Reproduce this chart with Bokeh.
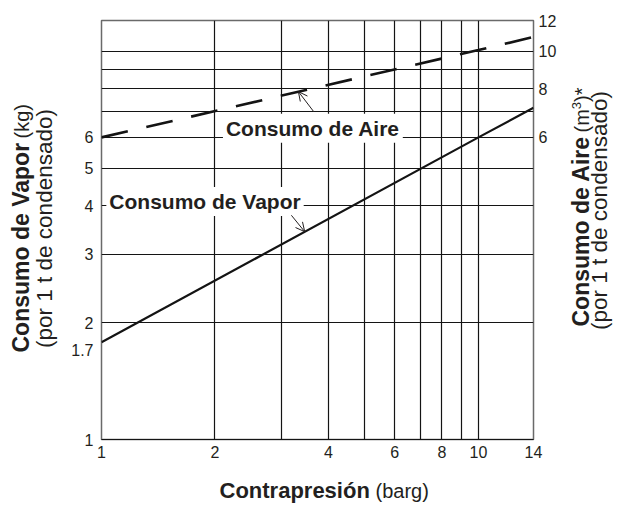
import math
from bokeh.plotting import figure
from bokeh.layouts import row, column
from bokeh.models import (LogAxis, Range1d, LogScale, FixedTicker, Label,
                          Arrow, OpenHead)
from bokeh.embed import file_html
from bokeh.resources import INLINE

# ---- data ----
pressure = [1, 10, 14]              # Contrapresión (barg)
steam = [1.78, 6.0, 7.15]           # Consumo de Vapor (kg / t condensado)
air = [6.0, 10.07, 10.88]           # Consumo de Aire (m3 / t condensado)

x_ticks = [1, 2, 4, 6, 8, 10, 14]
x_grid = [2, 3, 4, 5, 6, 7, 8, 9, 10]
y_ticks_left = [1, 1.7, 2, 3, 4, 5, 6]
y_ticks_right = [6, 8, 10, 12]
y_grid = [2, 3, 4, 5, 6, 7, 8, 9, 10]

INK = "#231f20"
LINE = "#141414"
FONT = "Liberation Sans"

# ---------------- main chart ----------------
p = figure(width=500, height=470, x_axis_type="log", y_axis_type="log",
           x_range=(1, 14), y_range=(1, 12),
           output_backend="svg", toolbar_location=None,
           min_border_left=41, min_border_right=27,
           min_border_top=20, min_border_bottom=31)
p.background_fill_color = "white"
p.border_fill_color = "white"
p.outline_line_color = "#6a6a6a"
p.outline_line_width = 1.5

p.xgrid[0].ticker = FixedTicker(ticks=x_grid)
p.ygrid[0].ticker = FixedTicker(ticks=y_grid)
for g in (p.xgrid[0], p.ygrid[0]):
    g.grid_line_color = LINE
    g.grid_line_width = 1.2
    g.minor_grid_line_color = None

def style_axis(ax, ticks, standoff):
    ax.ticker = FixedTicker(ticks=ticks)
    ax.major_label_overrides = {t: str(t) for t in ticks}
    ax.axis_line_color = None
    ax.major_tick_line_color = None
    ax.minor_tick_line_color = None
    ax.major_tick_out = 0
    ax.major_tick_in = 0
    ax.minor_tick_out = 0
    ax.minor_tick_in = 0
    ax.major_label_text_font = FONT
    ax.major_label_text_font_size = "16px"
    ax.major_label_text_color = INK
    ax.major_label_standoff = standoff
    ax.axis_label = None

style_axis(p.xaxis[0], x_ticks, 6)
p.xaxis[0].axis_line_color = LINE
p.xaxis[0].axis_line_width = 1.2
style_axis(p.yaxis[0], y_ticks_left, 8)

p.extra_y_ranges = {"air": Range1d(1, 12)}
p.extra_y_scales = {"air": LogScale()}
right_ax = LogAxis(y_range_name="air")
style_axis(right_ax, y_ticks_right, 5)
p.add_layout(right_ax, "right")

p.line(pressure, steam, line_color=LINE, line_width=2.2)
p.line(pressure, air, line_color=LINE, line_width=2.6, line_dash="27 19")

for txt, lx, ly in [("Consumo de Vapor", 1.03, 4.10), ("Consumo de Aire", 2.1, 6.33)]:
    p.add_layout(Label(x=lx, y=ly, text=txt, text_font=FONT, text_font_style="bold",
                       text_font_size="21px", text_color=INK, text_baseline="middle",
                       background_fill_color="white", padding=3))

p.add_layout(Arrow(x_start=3.19, y_start=3.78, x_end=3.46, y_end=3.43,
                   line_color=INK, line_width=1,
                   end=OpenHead(size=9, line_color=INK, line_width=1)))
p.add_layout(Arrow(x_start=3.66, y_start=6.98, x_end=3.33, y_end=7.87,
                   line_color=INK, line_width=1,
                   end=OpenHead(size=9, line_color=INK, line_width=1)))

# ---------------- title panels ----------------
def panel(w, h):
    f = figure(width=w, height=h, x_range=(0, 1), y_range=(0, 1),
               x_axis_location=None, y_axis_location=None,
               output_backend="svg", toolbar_location=None,
               min_border=0, min_border_left=0, min_border_right=0,
               min_border_top=0, min_border_bottom=0)
    f.grid.visible = False
    f.outline_line_color = None
    f.background_fill_color = "white"
    f.border_fill_color = "white"
    return f

def lab(f, text, x, y, size, bold=False, angle=0.0, align="left"):
    f.add_layout(Label(x=x, y=y, x_units="screen", y_units="screen", text=text,
                       text_font=FONT, text_font_size=size, angle=angle,
                       text_font_style="bold" if bold else "normal",
                       text_color=INK, text_align=align, text_baseline="middle"))

V = math.pi / 2

left = panel(60, 470)
lab(left, "Consumo de Vapor", 20.4, 87, "23px", True, V)
lab(left, "(kg)", 21.5, 301, "20px", False, V)
lab(left, "(por 1 t de condensado)", 44, 211, "22.5px", False, V, "center")

right = panel(55, 470)
lab(right, "Consumo de Aire", 20, 113, "23px", True, V)
lab(right, "(m", 21, 307, "20px", False, V)
lab(right, "3", 16, 330.3, "13px", False, V)
lab(right, ")*", 21, 337.5, "20px", False, V)
lab(right, "(por 1 t de condensado)", 39, 229, "22.5px", False, V, "center")

bottom = panel(615, 35)
lab(bottom, "Contrapresión", 219, 15, "22px", True)
lab(bottom, "(barg)", 375, 15, "20px", False)

layout = column(row(left, p, right), bottom)
open("out.html", "w").write(file_html(layout, INLINE))
